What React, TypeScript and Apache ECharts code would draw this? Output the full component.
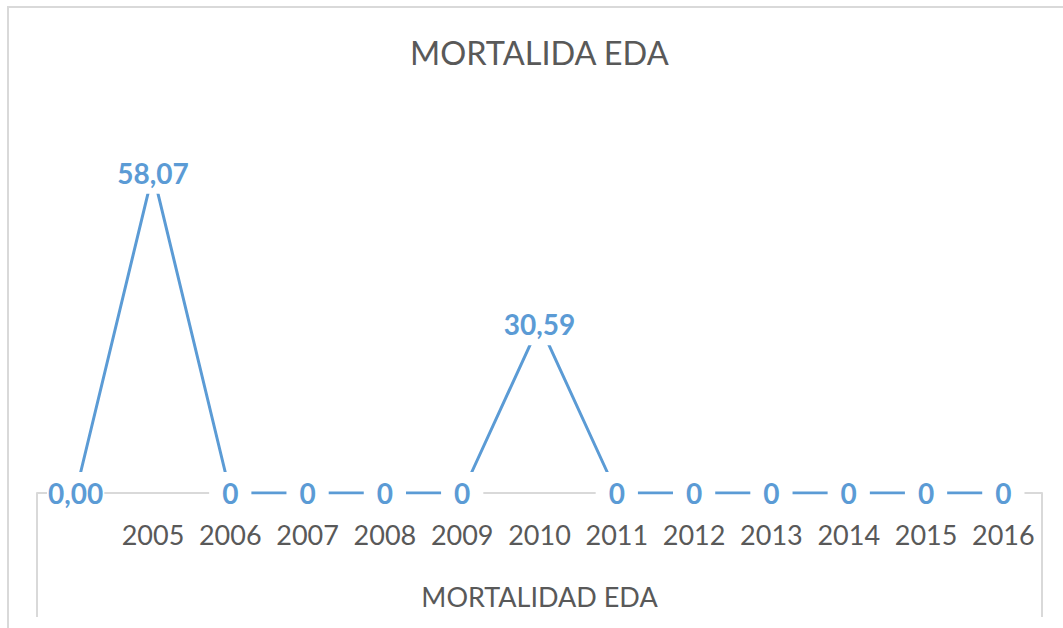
import React, { useEffect, useRef } from "react";
import * as echarts from "echarts";

const categories = ["", "2005", "2006", "2007", "2008", "2009", "2010", "2011", "2012", "2013", "2014", "2015", "2016"];
const values = [0, 58.07, 0, 0, 0, 0, 30.59, 0, 0, 0, 0, 0, 0];
const groupLabels = ["MORTALIDAD EDA"];
const titleText = "MORTALIDA EDA";
const yMin = 0;
const yMax = 70;

const BLUE = "#5B9BD5";
const GRAY_TEXT = "#595959";
const GRAY_LINE = "#D9D9D9";
const FONT = "Lato, 'Liberation Sans', sans-serif";

export default function App() {
  const ref = useRef<HTMLDivElement>(null);

  useEffect(() => {
    if (!ref.current) return;
    const chart = echarts.init(ref.current, undefined, { renderer: "svg" });
    const seriesData = values.map((v, i) =>
      i === 0 ? { value: v, label: { padding: [7, 1] } } : v
    );
    chart.setOption({
      animation: false,
      backgroundColor: "#ffffff",
      title: {
        text: titleText,
        left: 405,
        top: 31,
        textStyle: { fontFamily: FONT, fontSize: 32.5, fontWeight: "normal", color: GRAY_TEXT },
      },
      graphic: [
        {
          type: "rect",
          shape: { x: 8, y: 7, width: 1200, height: 800 },
          style: { fill: "none", stroke: GRAY_LINE, lineWidth: 2 },
          silent: true,
        },
      ],
      grid: { left: 37, right: 21, top: 107, bottom: 135 },
      xAxis: [
        {
          type: "category",
          data: categories,
          boundaryGap: true,
          axisLine: { show: true, lineStyle: { color: GRAY_LINE, width: 2 } },
          axisTick: { show: false },
          axisLabel: {
            interval: 0,
            margin: 28,
            fontFamily: FONT,
            fontSize: 27,
            color: GRAY_TEXT,
          },
        },
        {
          type: "category",
          data: groupLabels,
          position: "bottom",
          offset: 0,
          boundaryGap: true,
          axisLine: { show: false },
          axisTick: { show: true, length: 124, lineStyle: { color: GRAY_LINE, width: 2 } },
          axisLabel: {
            margin: 90,
            fontFamily: FONT,
            fontSize: 27,
            color: GRAY_TEXT,
          },
        },
      ],
      yAxis: {
        type: "value",
        min: yMin,
        max: yMax,
        show: false,
        splitLine: { show: false },
      },
      series: [
        {
          type: "line",
          xAxisIndex: 0,
          data: seriesData,
          symbol: "circle",
          symbolSize: 1,
          showSymbol: true,
          itemStyle: { color: BLUE },
          lineStyle: { color: BLUE, width: 3 },
          label: {
            show: true,
            position: "inside",
            fontFamily: FONT,
            fontSize: 28,
            fontWeight: "bold",
            color: BLUE,
            backgroundColor: "#ffffff",
            padding: [7, 13],
            formatter: (p: any) => {
              const v = Number(p.value);
              if (p.dataIndex === 0) return v.toFixed(2).replace(".", ",");
              if (v === 0) return "0";
              return v.toFixed(2).replace(".", ",");
            },
          },
        },
      ],
    });
    return () => chart.dispose();
  }, []);

  return (
    <div
      ref={ref}
      style={{ position: "fixed", left: 0, top: 0, width: 1063, height: 628 }}
    />
  );
}
